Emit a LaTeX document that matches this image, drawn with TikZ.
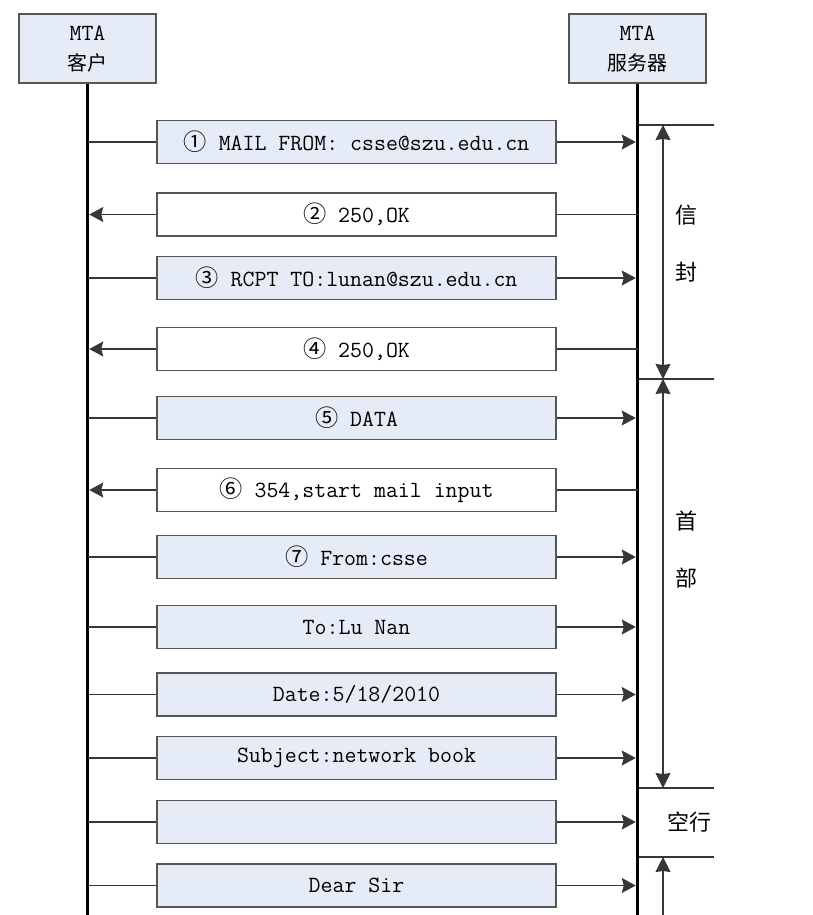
\documentclass[tikz,border=0pt]{standalone}
\usepackage{fontspec}
\newfontfamily\cjk{Noto Sans CJK SC}
\usetikzlibrary{arrows.meta}
\definecolor{boxfill}{RGB}{230,236,247}
\definecolor{edge}{RGB}{85,85,85}
\definecolor{wire}{RGB}{55,55,55}
\begin{document}
\begin{tikzpicture}[x=1pt,y=-1pt,
  msgs/.style={draw=edge, line width=1.3pt, fill=boxfill, minimum width=399pt, minimum height=43pt, inner sep=0pt, font=\ttfamily\fontsize{23.2}{26}\selectfont},
  msgr/.style={msgs, fill=white},
  head/.style={draw=edge, line width=1.3pt, fill=boxfill, minimum width=137pt, minimum height=69pt, inner sep=0pt},
  htext/.style={inner sep=0pt, font=\ttfamily\fontsize{23.2}{26}\selectfont},
  hcjk/.style={inner sep=0pt, font=\cjk\fontsize{20}{24}\selectfont},
  life/.style={line width=3.5pt, black},
  wirestyle/.style={draw=wire, line width=1.3pt, >={Stealth[length=14pt,width=15pt,inset=2pt]}},
  dim/.style={draw=wire, line width=1.2pt, >={Stealth[length=15pt,width=15pt,inset=1pt]}},
  side/.style={inner sep=0pt, font=\cjk\fontsize{22}{24}\selectfont}
]
\useasboundingbox (0,0) rectangle (812,915);

% header boxes
\node[head] (cbox) at (87.5,48.5) {};
\node[htext] (ct1) at (87.5,33.5) {MTA};
\node[hcjk] (ct2) at (87.5,63) {客户};
\node[head] (sbox) at (637.5,48.5) {};
\node[htext] (st1) at (637.5,33.5) {MTA};
\node[hcjk] (st2) at (637.5,63) {服务器};

% lifelines
\coordinate (cl) at (87.5,915);
\coordinate (sl) at (637.5,915);
\draw[life] (cbox.south) -- (cl);
\draw[life] (sbox.south) -- (sl);

% client -> server messages
\foreach \i/\y/\txt in {
  1/142/{{\cjk ①} MAIL FROM: csse@szu.edu.cn},
  3/278/{{\cjk ③} RCPT TO:lunan@szu.edu.cn},
  5/418/{{\cjk ⑤} DATA},
  7/557/{{\cjk ⑦} From:csse},
  8/627/{To:Lu Nan},
  9/694.5/{Date:5/18/2010},
  10/758/{Subject:network book},
  11/822/{},
  12/885.5/{Dear Sir}}{
  \node[msgs] (m\i) at (356.5,\y) {\txt};
  \draw[wirestyle] (m\i.west) -- (m\i.west -| cl);
  \draw[wirestyle,->,shorten >=1.75pt] (m\i.east) -- (m\i.east -| sl);
}

% server -> client replies
\foreach \i/\y/\txt in {
  2/214.5/{{\cjk ②} 250,OK},
  4/349/{{\cjk ④} 250,OK},
  6/490/{{\cjk ⑥} 354,start mail input}}{
  \node[msgr] (m\i) at (356.5,\y) {\txt};
  \draw[wirestyle] (m\i.east) -- (m\i.east -| sl);
  \draw[wirestyle,->,shorten >=1.75pt] (m\i.west) -- (m\i.west -| cl);
}

% right-side brackets
\coordinate (t1) at (639,125);  \coordinate (e1) at (714,125);
\coordinate (t2) at (639,379);  \coordinate (e2) at (714,379);
\coordinate (t3) at (639,788);  \coordinate (e3) at (714,788);
\coordinate (t4) at (639,857);  \coordinate (e4) at (714,857);
\draw[dim] (t1) -- (e1);
\draw[dim] (t2) -- (e2);
\draw[dim] (t3) -- (e3);
\draw[dim] (t4) -- (e4);

\coordinate (d1) at (663,125);
\coordinate (d2) at (663,379);
\coordinate (d3) at (663,788);
\coordinate (d4) at (663,857);
\coordinate (d5) at (663,915);
\draw[dim,<->] (d1) -- (d2);
\draw[dim,<->] (d2) -- (d3);
\draw[dim,<-] (d4) -- (d5);

\node[side] (x1) at (686,215) {信};
\node[side] (x2) at (686,272) {封};
\node[side] (x3) at (686,521) {首};
\node[side] (x4) at (686,578) {部};
\node[side] (x5) at (689,822) {空行};
\end{tikzpicture}
\end{document}
